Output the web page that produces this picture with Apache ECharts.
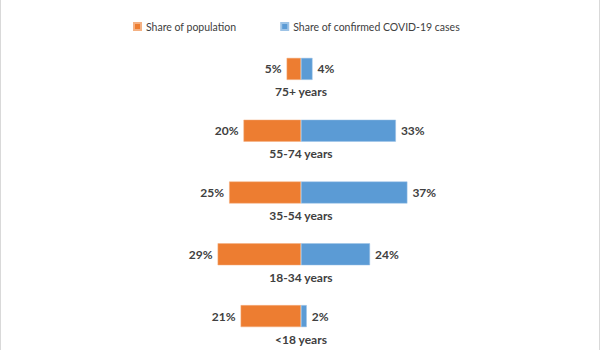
<!DOCTYPE html>
<html>
<head>
<meta charset="utf-8">
<script src="https://cdn.jsdelivr.net/npm/echarts@6/dist/echarts.min.js"></script>
<style>
  html, body { margin: 0; padding: 0; background: #fff; }
  #chart { width: 600px; height: 350px; }
</style>
</head>
<body>
<div id="chart"></div>
<script>
var ageGroups = ['<18 years', '18-34 years', '35-54 years', '55-74 years', '75+ years'];
var populationShare = [21, 29, 25, 20, 5];
var casesShare = [2, 24, 37, 33, 4];

var orange = '#ed7d31';
var blue = '#5b9bd5';
var ink = '#404040';
var font = 'Lato, "Open Sans", sans-serif';

var chart = echarts.init(document.getElementById('chart'), null, { renderer: 'svg' });

chart.setOption({
  animation: false,
  textStyle: { fontFamily: font },
  legend: {
    top: 16,
    left: 128,
    itemGap: 44,
    itemWidth: 7,
    itemHeight: 7,
    icon: 'rect',
    textStyle: { color: ink, fontSize: 10.5, fontFamily: font },
    data: ['Share of population', 'Share of confirmed COVID-19 cases']
  },
  grid: { left: 71, right: 69, top: 38, bottom: 3 },
  xAxis: {
    type: 'value',
    min: -80,
    max: 80,
    show: false
  },
  yAxis: {
    type: 'category',
    data: ageGroups,
    show: false
  },
  series: [
    {
      name: 'Share of population',
      type: 'bar',
      stack: 'age',
      barWidth: 22,
      data: populationShare.map(function(v) { return -v; }),
      itemStyle: { color: orange, borderColor: '#f4b183', borderWidth: 0.5 },
      label: {
        show: true,
        position: 'left',
        distance: 5,
        color: ink,
        fontSize: 12,
        fontWeight: 'bold',
        fontFamily: font,
        formatter: function(p) { return Math.abs(p.value) + '%'; }
      }
    },
    {
      name: 'Share of confirmed COVID-19 cases',
      type: 'bar',
      stack: 'age',
      barWidth: 22,
      data: casesShare,
      itemStyle: { color: blue, borderColor: '#9dc3e6', borderWidth: 0.5 },
      label: {
        show: true,
        position: 'right',
        distance: 5,
        color: ink,
        fontSize: 12,
        fontWeight: 'bold',
        fontFamily: font,
        formatter: '{c}%'
      }
    },
    {
      // category names under each bar
      type: 'scatter',
      symbolSize: 0,
      silent: true,
      itemStyle: { opacity: 1 },
      data: ageGroups.map(function(c) { return [0, c]; }),
      label: {
        show: true,
        position: 'bottom',
        distance: 17,
        color: ink,
        fontSize: 12,
        fontWeight: 'bold',
        fontFamily: font,
        formatter: function(p) { return p.data[1]; }
      }
    }
  ],
  graphic: [
    { type: 'line', shape: { x1: 0.5, y1: 0, x2: 0.5, y2: 350 }, style: { stroke: '#d9d9d9', lineWidth: 1 } },
    { type: 'line', shape: { x1: 599.5, y1: 0, x2: 599.5, y2: 350 }, style: { stroke: '#d9d9d9', lineWidth: 1 } }
  ]
});
</script>
</body>
</html>
